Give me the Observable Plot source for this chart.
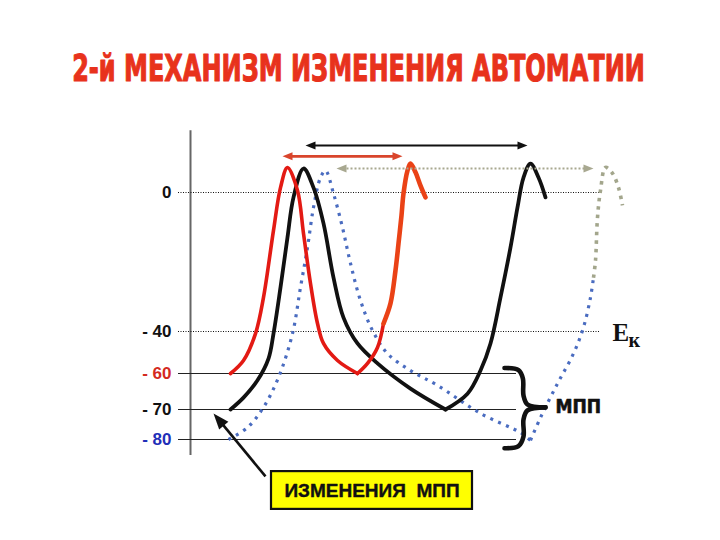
<!DOCTYPE html>
<html><head><meta charset="utf-8">
<script src="https://cdn.jsdelivr.net/npm/d3@7"></script>
<script src="https://cdn.jsdelivr.net/npm/@observablehq/plot@0.6"></script>
<style>body{margin:0;background:#fff} svg{display:block}</style>
</head><body><div id="chart"></div>
<script>
// ---- data (time in arbitrary units, potential in mV) ----
const title = "2-й МЕХАНИЗМ ИЗМЕНЕНИЯ АВТОМАТИИ";
const tickValues = [0, -40, -60, -70, -80];
const tickLabels = ["0", "- 40", "- 60", "- 70", "- 80"];
const dottedLevels = [0, -40];
const solidLevels = [-60, -70, -80];

// red: first action potential down to the trough, then the early second rise
const redFall = [[20,-60],[26.5,-53.8],[32.5,-41],[36.5,-30.2],[41.5,-10.9],[45,1.4],[48.5,7.2],
  [53.5,0.6],[56.5,-11.8],[60,-26.2],[63.5,-37.7],[66.5,-45.7],[73.5,-53.8],[83.5,-60]];
const redRise = [[83.5,-60],[88.5,-55.2],[93.5,-47.6],[96.5,-37.7]];
const orangeCurve = [[96.5,-37.7],[100,-31.9],[102.5,-22.4],[104,-14.7],[105.5,-6.6],[106.5,-0.3],
  [108.5,6.3],[110,8.3],[112.5,5.8],[115,2.0],[117.5,-1.4]];
const blackFall = [[20,-70],[26.5,-66.7],[33.5,-61.9],[39,-52.9],[41.5,-41],[45,-27.3],[48.5,-12.9],
  [51.5,-1.4],[56.5,6.9],[61.5,1.4],[66.5,-8.9],[71.5,-24.5],[76.5,-36],[83.5,-45.7],[93.5,-55.2],
  [110,-64.2],[127.5,-70]];
const blackRise = [[127.5,-70],[138.5,-65.6],[145,-58.6],[150,-45.7],[155,-30.2],[160,-15.8],
  [163.5,-4.3],[166.5,4.3],[170,8.3],[174,4.3],[177.5,-1.4]];
const blueFall = [[19,-80],[28.5,-76],[36.5,-69.4],[44,-61.1],[51,-41],[55,-27.3],[58.5,-15.8],
  [61.5,-4.3],[65,4.3],[67.5,6.3],[71.5,-0.3],[76,-10.1],[80,-20.4],[85,-31.1],[91,-39.7],
  [98.5,-50.5],[110,-58.6],[123.5,-63.3],[145,-71.3],[165,-77.7],[170,-80.3]];
const blueRise = [[170,-80.3],[175,-72.7],[183.5,-62.8],[191.5,-50.5],[196.5,-38.8],[200,-30.2],[201.5,-24.5]];
const grayCurve = [[201.5,-24.5],[202.5,-19.6],[203.5,-7.2],[205,0.6],[207.5,7.2],[211,5.5],
  [214,1.4],[216,-3.7]];

// interval arrows at the top: start, end, level
const spanBlack = [57.5, 168.5, 13.5];
const spanRed = [46, 106, 10.4];
const spanGray = [73, 201.5, 6.9];

const braceTop = [[157,-57.4],[164,-58.4],[166.2,-61.4],[166.5,-66.1],[168.5,-68.6],[177.5,-69.4]];
const braceBottom = [[177.5,-69.4],[168.5,-70.3],[166.5,-73.3],[166.5,-79],[164,-82.2],[157,-82.9]];
const boxLabel = "ИЗМЕНЕНИЯ  МПП";
const mppLabel = "МПП";

// ---- helpers ----
const tickColors = ["#111", "#111", "#d42a1e", "#111", "#1f2fb8"];
function spanMarks(s, color, dash, w) {
  const [a, b, v] = s;
  return [
    Plot.link([s], {x1: a + 3, x2: b - 3, y1: v, y2: v, stroke: color, strokeWidth: w, strokeDasharray: dash}),
    Plot.vector([[a, v, -90], [b, v, 90]], {x: d => d[0], y: d => d[1], rotate: d => d[2],
      shape: "spike", length: 10, r: 4, anchor: "end", fill: color, stroke: "none"})
  ];
}
const narrow = "'Liberation Sans Narrow', 'DejaVu Sans Condensed', sans-serif";
const blueStyle = {curve: "catmull-rom", stroke: "#4a6cc0", strokeWidth: 3.2, strokeDasharray: "3,5.5", strokeLinecap: "butt"};
const blackStyle = {curve: "catmull-rom", stroke: "#111", strokeWidth: 3.8};
const redStyle = {curve: "catmull-rom", stroke: "#e31a14", strokeWidth: 3.6};

const chart = Plot.plot({
  width: 720, height: 540, margin: 0,
  style: {background: "#fff", fontFamily: "'Liberation Sans', Arial, sans-serif"},
  x: {type: "linear", domain: [0, 250], range: [190, 690], axis: null},
  y: {type: "linear", domain: [-80, -70, -60, -40, 0], range: [439, 409, 373, 331, 192], axis: null},
  marks: [
    // axis line
    Plot.ruleX([0], {y1: -85.3, y2: 17.8, stroke: "#666", strokeWidth: 2}),
    // reference levels
    Plot.ruleY(dottedLevels, {x1: -6, x2: 204.5, stroke: "#111", strokeWidth: 1, strokeDasharray: "1,1.5"}),
    Plot.ruleY(solidLevels, {x1: -6, x2: 163, stroke: "#222", strokeWidth: 1.2}),
    // tick labels
    Plot.text(tickValues, {x: -9.5, y: d => d, text: (d, i) => tickLabels[i], textAnchor: "end",
      fill: (d, i) => tickColors[i], fontWeight: "bold", fontSize: 17}),
    // curves
    Plot.line(blueFall, blueStyle),
    Plot.line(blueRise, blueStyle),
    Plot.line(grayCurve, {curve: "catmull-rom", stroke: "#a3a68c", strokeWidth: 3.6, strokeDasharray: "3.5,5", strokeLinecap: "butt"}),
    Plot.line(blackFall, blackStyle),
    Plot.line(blackRise, blackStyle),
    Plot.line(redFall, redStyle),
    Plot.line(redRise, redStyle),
    Plot.line(orangeCurve, {curve: "catmull-rom", stroke: "#ea4216", strokeWidth: 4.6}),
    // top interval arrows
    ...spanMarks(spanBlack, "#111", null, 2),
    ...spanMarks(spanRed, "#d9452c", null, 2.6),
    ...spanMarks(spanGray, "#a8a890", "2,2", 2),
    // brace and labels
    Plot.line(braceTop, {curve: "catmull-rom", stroke: "#111", strokeWidth: 4.6}),
    Plot.line(braceBottom, {curve: "catmull-rom", stroke: "#111", strokeWidth: 4.6}),
    Plot.text([mppLabel], {x: 182.5, y: -69.4, textAnchor: "start", fontSize: 19, fontWeight: "bold",
      fontFamily: narrow, fill: "#111", stroke: "#111", strokeWidth: 0.6}),
    Plot.text(["E"], {x: 211, y: -40.6, textAnchor: "start", fontSize: 25, fontWeight: "bold",
      fontFamily: "'Liberation Serif', serif", fill: "#111"}),
    Plot.text(["к"], {x: 219, y: -44.4, textAnchor: "start", fontSize: 20, fontWeight: "bold",
      fontFamily: "'Liberation Serif', serif", fill: "#111"}),
    // bottom annotation box and arrow
    Plot.link([[37.5, -92.3, 14, -73.3]], {x1: d => d[0], y1: d => d[1], x2: d => d[2], y2: d => d[3],
      stroke: "#111", strokeWidth: 2.6}),
    Plot.vector([[11.5, -71.3]], {rotate: -40, shape: "spike", length: 16, r: 6, anchor: "end", fill: "#111", stroke: "none"}),
    Plot.rect([[40.5, 141, -90.7, -103.3]], {x1: d => d[0], x2: d => d[1], y1: d => d[2], y2: d => d[3],
      fill: "#ffff00", stroke: "#111", strokeWidth: 2.2}),
    Plot.text([boxLabel], {x: 90.75, y: -97, fontSize: 19, fontWeight: "bold", fill: "#111", stroke: "#111", strokeWidth: 0.4}),
    // title
    Plot.text([title], {frameAnchor: "top", lineAnchor: "middle", dx: -2, dy: 68, fontSize: 38, fontWeight: "bold",
      fontFamily: narrow, fill: "#e8321c", stroke: "#e8321c", strokeWidth: 1.1})
  ]
});
document.getElementById("chart").appendChild(chart);
// squeeze the title horizontally to the reference width
chart.querySelectorAll("text").forEach(t => {
  if (t.textContent === title) {
    const w = t.getComputedTextLength();
    if (w > 0) {
      const s = Math.min(1, 573 / w);
      const tr = t.getAttribute("transform") || "";
      t.setAttribute("transform", tr + ` scale(${s},1)`);
    }
  }
});
</script>
</body></html>
